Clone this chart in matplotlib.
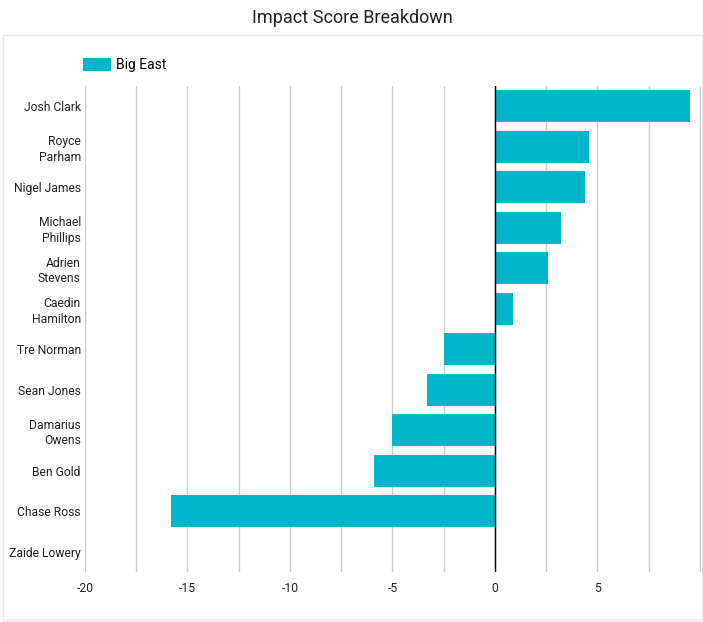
import matplotlib
matplotlib.use("Agg")
import matplotlib.pyplot as plt
import numpy as np
from matplotlib.patches import Rectangle

plt.rcParams['font.family'] = ['Roboto', 'DejaVu Sans']

players = ["Josh Clark", "Royce\nParham", "Nigel James", "Michael\nPhillips", "Adrien\nStevens",
           "Caedin\nHamilton", "Tre Norman", "Sean Jones", "Damarius\nOwens", "Ben Gold",
           "Chase Ross", "Zaide Lowery"]
scores = [9.5, 4.6, 4.4, 3.2, 2.6, 0.9, -2.5, -3.3, -5.0, -5.9, -15.8, 0.0]
series_name = "Big East"
xticks = [-20, -15, -10, -5, 0, 5]

fig = plt.figure(figsize=(7.03, 6.22), dpi=100)
# card border
fig.patches.append(Rectangle((3/703, 2/622), 699/703, 585/622, transform=fig.transFigure,
                             fill=False, edgecolor='#e6e6e6', linewidth=1))
ax = fig.add_axes([85/703, 1-572/622, 616/703, 486/622])

y = np.arange(len(players))
ax.barh(y, scores, height=0.78, color='#00B6CB', label=series_name, zorder=3)
ax.set_ylim(len(players)-0.5, -0.5)
ax.set_xlim(-20, 10.05)
ax.set_yticks(y)
ax.set_yticklabels(players, fontsize=8.7, color='#222222', linespacing=1.25)
ax.set_xticks(xticks)
ax.set_xticklabels([str(t) for t in xticks], fontsize=8.7, color='#222222')
ax.set_xticks(np.arange(-20, 10.01, 2.5), minor=True)
ax.grid(True, which='both', axis='x', color='#cccccc', linewidth=1, zorder=0)
ax.axvline(0, color='black', linewidth=1, zorder=4)
for s in ax.spines.values():
    s.set_visible(False)
ax.tick_params(axis='both', which='both', length=0)
ax.tick_params(axis='y', pad=3)
ax.tick_params(axis='x', pad=7)

fig.text(352/703, 1-18/622, "Impact Score Breakdown", ha='center', va='center', fontsize=13, color='#222222')
leg = ax.legend(loc='lower left', bbox_to_anchor=(-0.012, 1.017), frameon=False, fontsize=10,
                handlelength=2.0, handleheight=1.0, handletextpad=0.4, borderaxespad=0)

fig.savefig("out.png", dpi=100)
